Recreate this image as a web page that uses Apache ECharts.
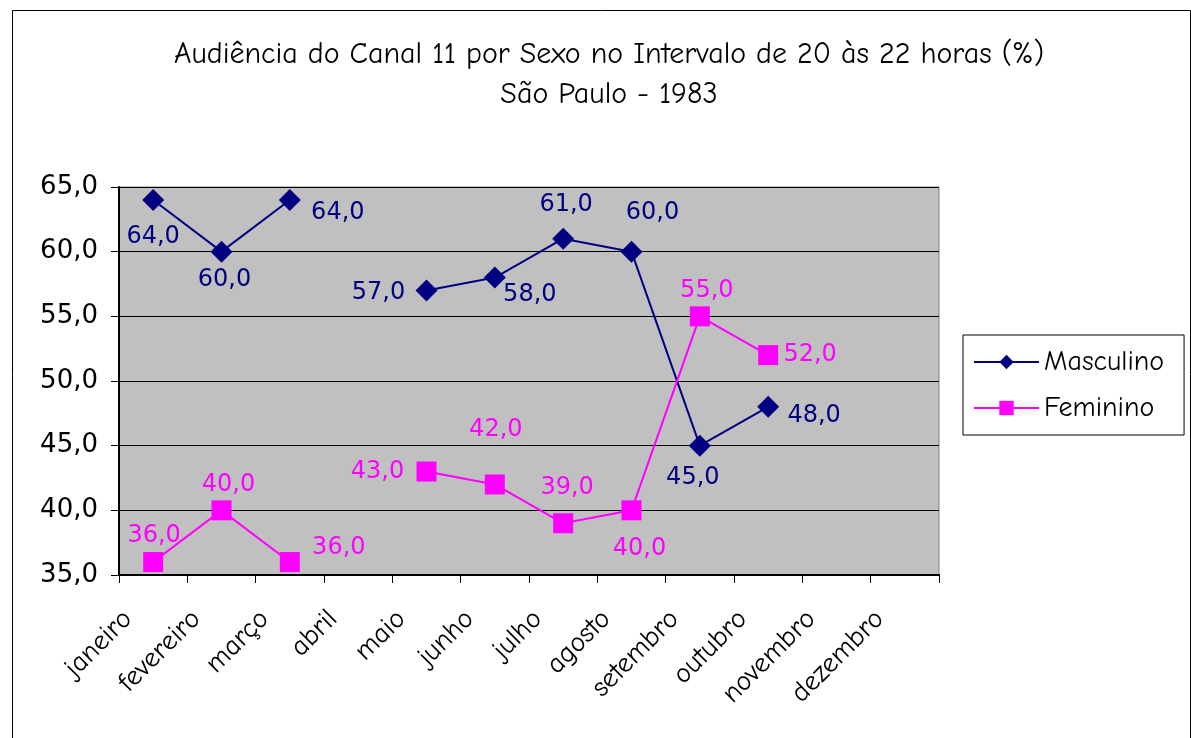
<!DOCTYPE html>
<html>
<head>
<meta charset="utf-8">
<script src="https://cdn.jsdelivr.net/npm/echarts@6/dist/echarts.min.js"></script>
<style>html,body{margin:0;padding:0;background:#fff}#c{width:1191px;height:738px}</style>
</head>
<body>
<div id="c"></div>
<script>
const months = ['janeiro','fevereiro','março','abril','maio','junho','julho','agosto','setembro','outubro','novembro','dezembro'];
const masculino = [64, 60, 64, null, 57, 58, 61, 60, 45, 48, null, null];
const feminino = [36, 40, 36, null, 43, 42, 39, 40, 55, 52, null, null];
const yTicks = { min: 35, max: 65, interval: 5 };

// label offsets (style only)
const mascOff = [[0,37],[3,28],[48,13],null,[-48,2],[35,17],[3,-34],[21,-39],[-7,32],[46,9],null,null];
const femOff  = [[1,-26],[7,-26],[49,-14],null,[-49,0],[1,-55],[4,-36],[8,38],[7,-26],[42,0],null,null];

const FONT_C = "'Comic Sans MS','Comic Neue','DejaVu Sans',sans-serif";
const FONT_V = "'Verdana','DejaVu Sans',sans-serif";
const fmt = v => v.toFixed(1).replace('.', ',');

function build(vals, offs) {
  return vals.map((v, i) => v == null ? null : {
    value: v,
    label: { offset: offs[i] }
  });
}

const chart = echarts.init(document.getElementById('c'), null, { renderer: 'canvas' });
chart.setOption({
  animation: false,
  backgroundColor: '#fff',
  graphic: [{
    type: 'rect', left: 10, top: 8, z: -10, silent: true,
    shape: { width: 1178, height: 760 },
    style: { fill: 'none', stroke: '#000', lineWidth: 1 }
  }],
  title: {
    text: 'Audiência do Canal 11 por Sexo no Intervalo de 20 às 22 horas (%)\nSão Paulo - 1983',
    left: 604, top: 30, textAlign: 'center',
    textStyle: { fontFamily: FONT_C, fontSize: 30, fontWeight: 'normal', color: '#000', lineHeight: 40 }
  },
  legend: {
    orient: 'vertical',
    left: 963, top: 335,
    padding: [13, 20, 13, 10],
    borderColor: '#000', borderWidth: 1,
    itemWidth: 65, itemHeight: 18, itemGap: 18,
    textStyle: { fontFamily: FONT_C, fontSize: 28, color: '#000' },
    data: ['Masculino', 'Feminino']
  },
  grid: { left: 119, right: 252, top: 187, bottom: 163, show: true, backgroundColor: '#C0C0C0', borderColor: '#808080', borderWidth: 1 },
  xAxis: {
    type: 'category', data: months, boundaryGap: true,
    axisLine: { lineStyle: { color: '#000', width: 2 } },
    axisTick: { show: true, length: 8, lineStyle: { color: '#000' } },
    axisLabel: { rotate: 45, margin: 14, fontFamily: FONT_C, fontSize: 28, color: '#000', interval: 0, padding: [0, 36, 0, 0] },
    splitLine: { show: false }
  },
  yAxis: {
    type: 'value', min: yTicks.min, max: yTicks.max, interval: yTicks.interval,
    axisLine: { show: true, lineStyle: { color: '#000', width: 2 } },
    axisTick: { show: true, length: 8, lineStyle: { color: '#000' } },
    axisLabel: { formatter: v => fmt(v), fontFamily: FONT_V, fontSize: 26, color: '#000', margin: 21 },
    splitLine: { lineStyle: { color: '#000', width: 1 } }
  },
  series: [
    {
      name: 'Masculino', type: 'line', data: build(masculino, mascOff), connectNulls: false,
      symbol: 'diamond', symbolSize: 22,
      lineStyle: { color: '#000080', width: 2 }, itemStyle: { color: '#000080' },
      label: { show: true, position: 'inside', formatter: p => fmt(p.value), fontFamily: FONT_V, fontSize: 24, color: '#000080' }
    },
    {
      name: 'Feminino', type: 'line', data: build(feminino, femOff), connectNulls: false,
      symbol: 'rect', symbolSize: 20,
      lineStyle: { color: '#FF00FF', width: 2 }, itemStyle: { color: '#FF00FF' },
      label: { show: true, position: 'inside', formatter: p => fmt(p.value), fontFamily: FONT_V, fontSize: 24, color: '#FF00FF' }
    }
  ]
});
</script>
</body>
</html>
